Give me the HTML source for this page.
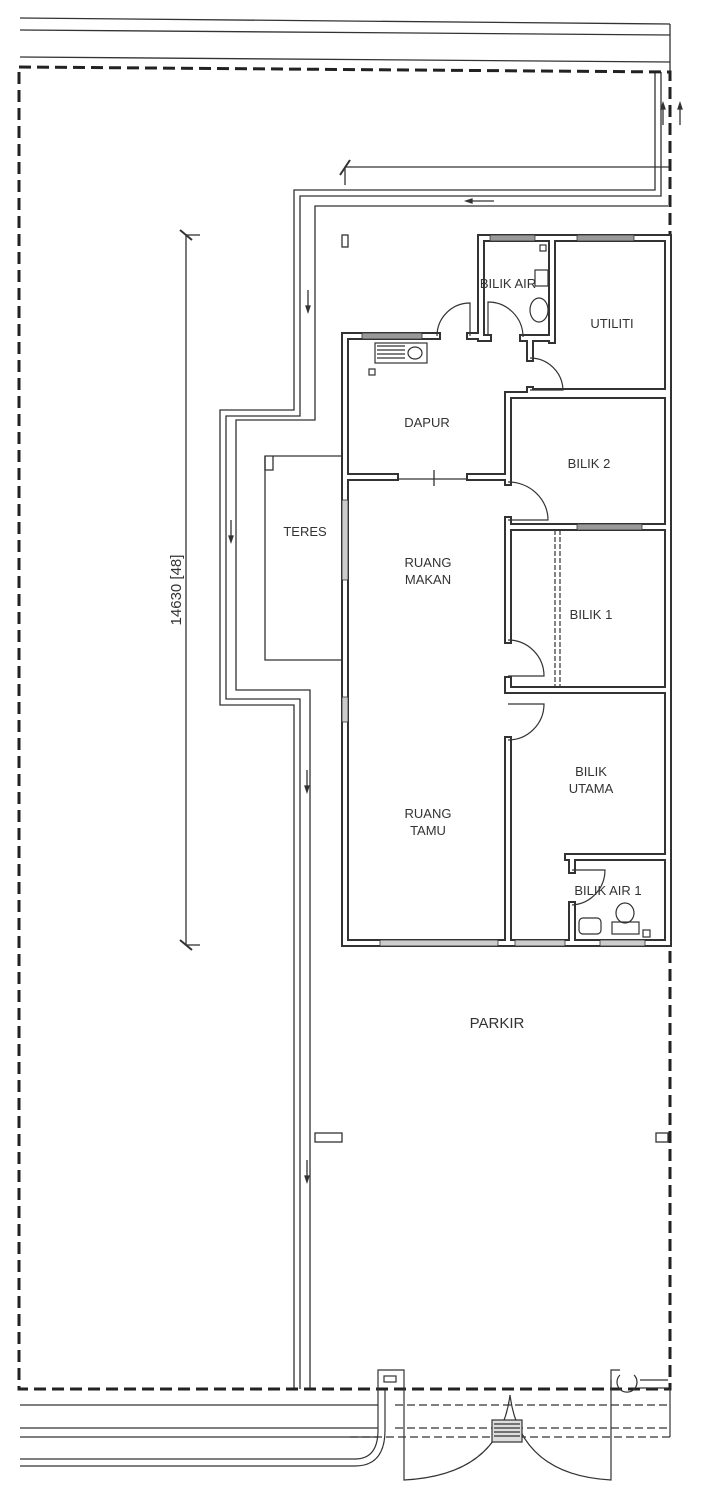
<!DOCTYPE html>
<html><head><meta charset="utf-8"><style>
html,body{margin:0;padding:0;background:#fff;}
svg{display:block;}
text{font-family:"Liberation Sans",sans-serif;fill:#333;}
</style></head><body>
<svg width="715" height="1500" viewBox="0 0 715 1500" xmlns="http://www.w3.org/2000/svg">
<g stroke="#333" fill="none" stroke-width="1.3">
<line x1="20" y1="18" x2="670" y2="24"/>
<line x1="20" y1="30" x2="670" y2="35"/>
<line x1="20" y1="57" x2="670" y2="62"/>
<line x1="670" y1="24" x2="670" y2="72"/>
<path d="M655,72 V190 H294 V410 H220 V705 H294 V1389"/>
<path d="M661,72 V196 H300 V416 H226 V699 H300 V1389"/>
<path d="M668,206 H315 V420 H236 V690 H310 V1389"/>
<line x1="345" y1="167" x2="670" y2="167"/>
<line x1="340" y1="175" x2="350" y2="160" stroke-width="2"/>
<line x1="345" y1="167" x2="345" y2="185"/>
<line x1="186" y1="234" x2="186" y2="945"/>
<line x1="180" y1="230" x2="192" y2="240" stroke-width="2"/>
<line x1="180" y1="940" x2="192" y2="950" stroke-width="2"/>
<line x1="186" y1="235" x2="200" y2="235"/>
<line x1="186" y1="945" x2="200" y2="945"/>
<line x1="466" y1="201" x2="494" y2="201"/><path d="M466,201 l6,-2 v4z" fill="#333"/>
<line x1="308" y1="290" x2="308" y2="310"/><path d="M308,312 l-2,-6 h4z" fill="#333"/>
<line x1="231" y1="520" x2="231" y2="540"/><path d="M231,542 l-2,-6 h4z" fill="#333"/>
<line x1="307" y1="770" x2="307" y2="790"/><path d="M307,792 l-2,-6 h4z" fill="#333"/>
<line x1="307" y1="1160" x2="307" y2="1180"/><path d="M307,1182 l-2,-6 h4z" fill="#333"/>
<line x1="663" y1="105" x2="663" y2="125"/><path d="M663,103 l-2,6 h4z" fill="#333"/>
<line x1="680" y1="105" x2="680" y2="125"/><path d="M680,103 l-2,6 h4z" fill="#333"/>
<path d="M345,456 H265 V660 H345"/>
<path d="M265,456 V470 H273 V456"/>
<rect x="342" y="235" width="6" height="12"/>
<rect x="315" y="1133" width="27" height="9"/>
<rect x="656" y="1133" width="12" height="9"/>
<line x1="395" y1="479" x2="470" y2="479"/>
<line x1="434" y1="470" x2="434" y2="486"/>
</g>
<path d="M19,67 L670,72 V1389 H19 Z" fill="none" stroke="#222" stroke-width="3" stroke-dasharray="12,6"/>
<g fill="none" stroke-linecap="square">
<g stroke="#333" stroke-width="8">
<path d="M345,336 V943 H668"/>
<path d="M345,336 H437 M470,336 H481"/>
<path d="M481,336 V238 H668 V943"/>
<path d="M552,238 V340"/>
<path d="M481,338 H488 M523,338 H552"/>
<path d="M530,340 V358 M530,390 V392 H668"/>
<path d="M508,395 V482 M508,520 V640 M508,680 V690 M508,740 V943"/>
<path d="M345,477 H395 M470,477 H508"/>
<path d="M508,527 H668"/>
<path d="M508,690 H668"/>
<path d="M568,857 H668"/>
<path d="M572,857 V870 M572,905 V943"/>
<path d="M508,395 H668"/>
</g>
<g stroke="#fff" stroke-width="4">
<path d="M345,336 V943 H668"/>
<path d="M345,336 H437 M470,336 H481"/>
<path d="M481,336 V238 H668 V943"/>
<path d="M552,238 V340"/>
<path d="M481,338 H488 M523,338 H552"/>
<path d="M530,340 V358 M530,390 V392 H668"/>
<path d="M508,395 V482 M508,520 V640 M508,680 V690 M508,740 V943"/>
<path d="M345,477 H395 M470,477 H508"/>
<path d="M508,527 H668"/>
<path d="M508,690 H668"/>
<path d="M568,857 H668"/>
<path d="M572,857 V870 M572,905 V943"/>
<path d="M508,395 H668"/>
</g>
</g>
<g fill="#999" stroke="#333" stroke-width="0.8">
<rect x="362" y="333" width="60" height="6"/>
<rect x="490" y="235" width="45" height="6"/>
<rect x="577" y="235" width="57" height="6"/>
<rect x="577" y="524" width="65" height="6"/>
<rect x="380" y="940" width="118" height="6" fill="#ccc"/>
<rect x="515" y="940" width="50" height="6" fill="#ccc"/>
<rect x="600" y="940" width="45" height="6" fill="#ccc"/>
<rect x="342" y="500" width="6" height="80" fill="#ccc"/>
<rect x="342" y="697" width="6" height="25" fill="#ccc"/>
</g>
<g fill="none" stroke="#333" stroke-width="1.2">
<path d="M437,336 A33,33 0 0 1 470,303 V336"/>
<path d="M488,336 V302 A35,35 0 0 1 523,337"/>
<path d="M530,358 A33,33 0 0 1 563,390 H530"/>
<path d="M508,482 A40,38 0 0 1 548,520 H508"/>
<path d="M508,640 A36,36 0 0 1 544,676 H508"/>
<path d="M508,704 H544 A36,36 0 0 1 508,740"/>
<path d="M572,870 H605 A35,35 0 0 1 572,905"/>
<path d="M555,530 V688 M560,530 V688" stroke-dasharray="5,2"/>
<rect x="375" y="343" width="52" height="20" fill="#fff"/>
<path d="M377,346 H405 M377,350 H405 M377,354 H405 M377,358 H405"/>
<ellipse cx="415" cy="353" rx="7" ry="6"/>
<rect x="369" y="369" width="6" height="6"/>
<ellipse cx="539" cy="310" rx="9" ry="12"/>
<rect x="535" y="270" width="13" height="16"/>
<rect x="540" y="245" width="6" height="6"/>
<ellipse cx="625" cy="913" rx="9" ry="10"/>
<rect x="612" y="922" width="27" height="12"/>
<rect x="579" y="918" width="22" height="16" rx="4"/>
<rect x="643" y="930" width="7" height="7"/>
</g>
<g fill="none" stroke="#333" stroke-width="1.2">
<path d="M20,1405 H378 M20,1428 H378 M20,1437 H378"/>
<path d="M395,1405 H670 M395,1428 H670 M350,1437 H670" stroke-dasharray="8,4"/>
<path d="M20,1459 H355 Q378,1459 378,1430 V1370 H404 V1390"/>
<path d="M20,1466 H355 Q385,1466 385,1430 V1390"/>
<rect x="384" y="1376" width="12" height="6"/>
<path d="M404,1390 V1480 Q500,1475 510,1395"/>
<path d="M611,1380 V1480 Q520,1475 510,1395"/>
<rect x="492" y="1420" width="30" height="22" fill="#ddd"/>
<path d="M494,1424 H520 M494,1428 H520 M494,1432 H520 M494,1436 H520"/>
<path d="M611,1390 V1370 H620 M620,1375 a10,10 0 1 0 14,0"/>
<path d="M640,1380 H668 M640,1388 H668"/>
<line x1="670" y1="1389" x2="670" y2="1437"/>
</g>
<g font-size="13" text-anchor="middle">
<text x="427" y="427">DAPUR</text>
<text x="508" y="288">BILIK AIR</text>
<text x="612" y="328">UTILITI</text>
<text x="589" y="468">BILIK 2</text>
<text x="305" y="536">TERES</text>
<text x="428" y="567">RUANG</text>
<text x="428" y="584">MAKAN</text>
<text x="591" y="619">BILIK 1</text>
<text x="591" y="776">BILIK</text>
<text x="591" y="793">UTAMA</text>
<text x="428" y="818">RUANG</text>
<text x="428" y="835">TAMU</text>
<text x="608" y="895">BILIK AIR 1</text>
<text x="497" y="1028" font-size="15">PARKIR</text>
<text transform="translate(181,590) rotate(-90)" font-size="15" fill="#777">14630 [48]</text>
</g>
</svg>
</body></html>
